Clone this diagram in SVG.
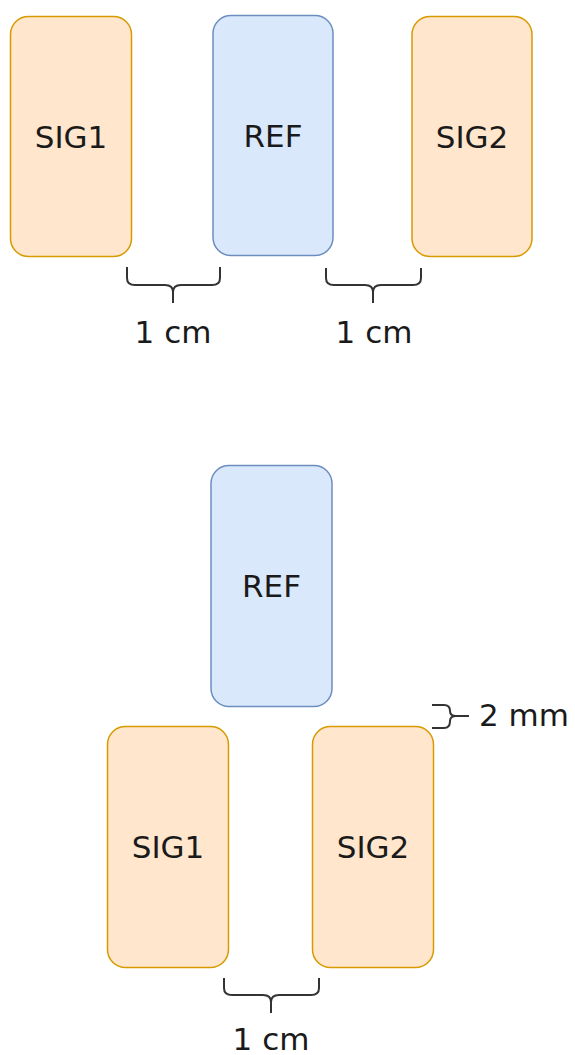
<svg xmlns="http://www.w3.org/2000/svg" width="575" height="1055" viewBox="0 0 575 1055">
<style>
.sig{fill:#ffe6cc;stroke:#d79b00;stroke-width:1.5}
.ref{fill:#dae8fc;stroke:#6c8ebf;stroke-width:1.5}
.lbl{font-family:"DejaVu Sans",Verdana,sans-serif;font-size:31px;fill:#1a1a1a;text-anchor:middle}
.br{fill:none;stroke:#333333;stroke-width:2}
</style>
<rect width="575" height="1055" fill="#ffffff"/>
<g id="sig1-top"><rect class="sig" x="10.5" y="16.5" width="121" height="240" rx="18"/><text class="lbl" x="71" y="148">SIG1</text></g>
<g id="ref-top"><rect class="ref" x="213" y="15.5" width="120" height="240" rx="18"/><text class="lbl" x="273" y="147">REF</text></g>
<g id="sig2-top"><rect class="sig" x="412" y="16.5" width="120" height="240" rx="18"/><text class="lbl" x="472" y="148">SIG2</text></g>
<g id="ref-bottom"><rect class="ref" x="211" y="465.5" width="121" height="241" rx="18"/><text class="lbl" x="271.5" y="597">REF</text></g>
<g id="sig1-bottom"><rect class="sig" x="107.5" y="726.5" width="121" height="241" rx="18"/><text class="lbl" x="168" y="858">SIG1</text></g>
<g id="sig2-bottom"><rect class="sig" x="312.5" y="726.5" width="121" height="241" rx="18"/><text class="lbl" x="373" y="858">SIG2</text></g>
<g id="connectors">
<path class="br" d="M127,267 L127,278 Q127,285 135,285 L165,285 Q173,285 173,292 L173,303 M173,292 Q173,285 181,285 L212,285 Q220,285 220,278 L220,267"/>
<path class="br" d="M326,268 L326,278 Q326,285 334,285 L365,285 Q373,285 373,292 L373,303 M373,292 Q373,285 381,285 L413,285 Q421,285 421,278 L421,268"/>
<path class="br" d="M224,978 L224,988 Q224,995 232,995 L263,995 Q271,995 271,1002 L271,1013 M271,1002 Q271,995 279,995 L311,995 Q319,995 319,988 L319,978"/>
<path class="br" d="M432,705 L444,705 Q450,705 450,711 Q450,716 456,716 L469,716 M456,716 Q450,716 450,721 Q450,728 444,728 L432,728"/>
</g>
<text class="lbl" x="173" y="343">1 cm</text>
<text class="lbl" x="374" y="343">1 cm</text>
<text class="lbl" x="271" y="1050">1 cm</text>
<text class="lbl" x="479" y="726" style="text-anchor:start">2 mm</text>
</svg>
